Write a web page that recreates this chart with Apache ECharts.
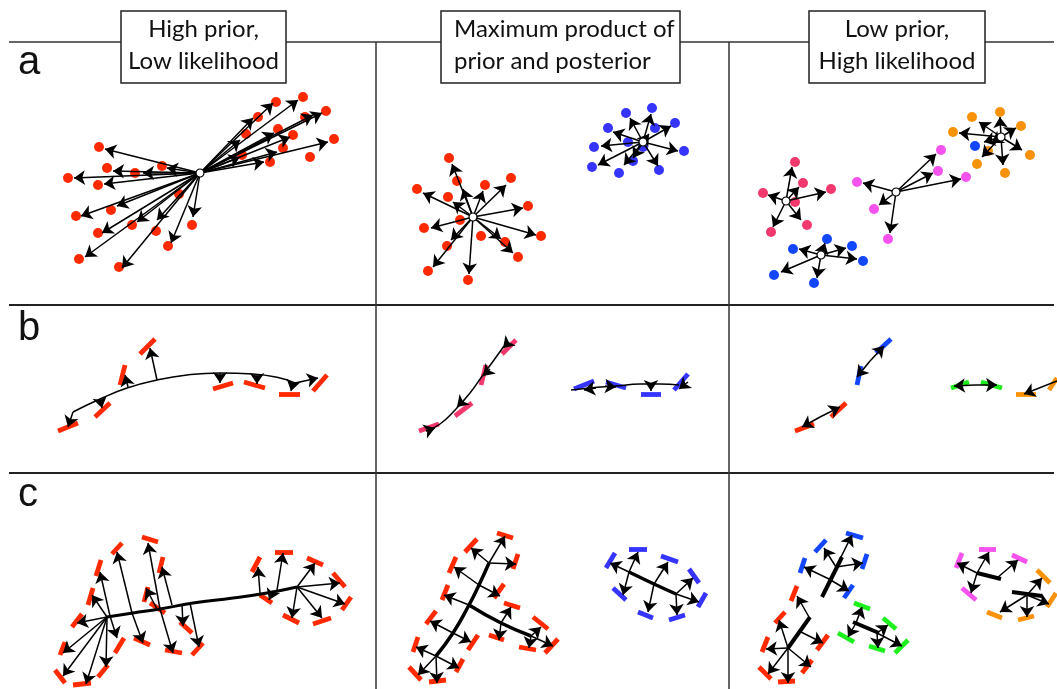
<!DOCTYPE html>
<html>
<head>
<meta charset="utf-8">
<script src="https://cdn.jsdelivr.net/npm/echarts@6/dist/echarts.min.js"></script>
<style>
html, body { margin: 0; padding: 0; background: #fff; }
#chart { width: 1057px; height: 689px; }
</style>
</head>
<body>
<div id="chart"></div>
<script>

// ---- row a : point clusters, fan of arrows from each hub
const a1Hub = [200, 173]
const a1Dots = [[99,147],[107,168],[135,173],[162,166],[68,178],[98,185],[111,210],[76,216],[98,233],[132,225],
  [156,231],[179,194],[192,225],[168,246],[79,259],[119,267],[258,117],[276,102],[303,97],[326,111],[305,117],
  [246,134],[278,129],[293,135],[283,148],[242,155],[270,162],[310,157],[334,139]]
const a1Tips = [[105,149],[113,171],[143,173],[167,168],[74,178],[104,184],[117,206],[81,216],[102,233],[137,222],
  [157,220],[171,243],[193,217],[85,257],[122,268],[253,118],[273,103],[298,100],[322,113],[313,115],[240,140],
  [274,133],[290,137],[277,152],[240,157],[264,162],[328,142]]

const a2RedHub = [473, 217]
const a2RedDots = [[449,158],[457,181],[485,185],[511,178],[417,189],[448,197],[528,206],[460,220],[424,228],
  [481,236],[505,242],[541,236],[447,246],[518,257],[428,271],[468,280]]
const a2RedTips = [[452,164],[463,189],[483,191],[506,185],[423,193],[453,202],[523,208],[431,228],[451,240],
  [536,235],[513,253],[433,267],[469,274],[501,239]]
const a2BlueHub = [643, 142]
const a2BlueDots = [[626,113],[652,108],[608,128],[655,128],[675,123],[594,147],[628,142],[684,151],[592,167],
  [633,161],[619,173],[659,170],[643,147]]
const a2BlueTips = [[630,118],[651,114],[613,132],[649,134],[671,126],[601,146],[678,151],[598,165],[624,165],
  [633,158],[658,166]]

const a3PinkHub = [786, 201]
const a3PinkDots = [[795,162],[803,183],[831,189],[763,193],[795,202],[807,225],[771,232]]
const a3PinkTips = [[792,167],[799,187],[826,192],[768,195],[801,220],[773,227]]
const a3MagentaHub = [896, 192]
const a3MagentaDots = [[941,150],[938,171],[966,177],[857,182],[874,209],[888,239]]
const a3MagentaTips = [[936,154],[933,173],[961,179],[863,183],[879,205],[890,233]]
const a3OrangeHub = [1001, 137]
const a3OrangeDots = [[1000,112],[972,117],[1021,126],[953,132],[1030,155],[988,151],[977,164],[1005,173]]
const a3OrangeStray = [[975,146]]
const a3OrangeTips = [[1000,117],[979,122],[1016,128],[959,133],[1022,150],[984,142],[982,157],[1003,165],[992,143]]
const a3BlueHub = [821, 255]
const a3BlueDots = [[827,239],[852,246],[793,249],[863,261],[774,275],[814,283]]
const a3BlueTips = [[825,243],[846,248],[799,249],[857,259],[781,272],[817,278]]

// ---- row b : curves, short bars, arrows  (segments are [x1,y1,x2,y2])
const b1Curve = [[73,412],[100,399],[127,388],[157,380],[187,375],[220,373],[253,374],[280,378],[295,383]]
const b1Bars = [[58,431,78,423],[95,417,110,403],[120,385,125,365],[140,354,155,339],[213,389,233,383],
  [244,382,265,388],[279,394,300,394],[313,391,327,375]]
const b1Arrows = [[73,412,68,427],[100,399,102,408],[128,387,125,375],[157,380,150,348],[220,373,220,383],
  [257,375,257,384],[293,383,291,391],[295,383,318,378]]

const b2PinkCurve = [[426,431],[440,424],[456,409],[470,393],[483,375],[494,360],[504,346]]
const b2PinkBars = [[419,431,439,424],[455,416,472,403],[481,385,486,365],[502,354,516,340]]
const b2PinkArrows = [[426,431,435,428],[464,400,457,407],[490,369,483,376],[509,342,503,348]]
const b2BlueCurve = [[571,390],[590,388],[616,386],[640,384],[660,384],[679,385]]
const b2BlueBars = [[574,389,594,381],[606,382,626,388],[641,394,661,394],[674,390,688,374]]
const b2BlueArrows = [[596,388,584,390],[605,386,616,387],[651,383,651,391],[688,382,679,389]]

const b3BlueBars = [[876,353,891,339],[857,385,861,366]]
const b3RedBars = [[795,431,814,424],[831,417,846,403]]
const b3GreenBars = [[951,388,969,382],[981,382,1002,388]]
const b3OrangeBars = [[1016,394,1036,394],[1049,390,1057,378]]
const b3Arrows = [[870,361,884,346],[870,361,857,377],[820,417,802,427],[820,417,840,407],
  [975,385,954,386],[975,385,997,385],[1057,381,1024,394]]

// ---- row c : skeleton spines, arrows, bars
const c1Spine = [[107,617],[133,613],[160,609],[193,603],[233,598],[267,593],[297,587]]
const c1Arrows = [[107,617,77,623],[297,587,340,583],[107,617,92,595],[110,616,100,572],[110,616,117,638],
  [107,617,63,653],[107,617,63,676],[107,617,86,684],[107,617,106,667],[132,613,117,552],[132,613,143,643],
  [160,609,148,543],[160,609,173,653],[157,609,146,588],[172,605,162,567],[190,603,199,647],[182,604,183,626],
  [260,593,258,567],[277,590,283,553],[273,591,269,600],[297,587,315,563],[297,587,345,604],[297,587,322,618],
  [297,587,292,618]]
const c1Bars = [[112,554,122,543],[142,537,158,542],[159,573,163,557],[96,576,101,560],[88,605,93,588],
  [144,602,148,587],[72,627,82,614],[60,655,65,642],[55,670,65,683],[73,685,91,683],[98,677,108,665],
  [115,653,124,638],[134,638,150,645],[165,650,182,653],[180,622,192,633],[192,655,203,643],[150,603,165,613],
  [252,572,260,557],[275,552,293,552],[307,558,323,565],[333,573,345,587],[342,610,351,597],[313,624,331,618],
  [283,615,299,623],[260,595,272,603]]

const c2RedSpine = [[436,656],[453,633],[469,605],[479,585],[489,563]]
const c2RedBranch = [[469,605],[501,623],[531,636]]
const c2RedArrows = [[531,636,553,646],[436,656,418,675],[436,656,437,683],[436,656,416,647],[436,656,459,668],
  [453,633,430,621],[453,633,471,642],[469,605,444,595],[479,585,454,567],[479,585,500,596],[489,563,471,548],
  [489,563,505,536],[489,563,516,564],[501,623,511,607],[501,623,499,640],[531,636,541,627],[531,636,529,648]]
const c2RedBars = [[409,667,421,680],[429,682,446,680],[413,652,418,637],[456,672,463,659],[426,624,436,611],
  [468,650,478,635],[442,600,448,585],[449,573,456,557],[494,598,504,584],[465,552,477,539],[497,533,513,538],
  [513,569,518,554],[504,603,520,608],[489,635,504,640],[533,617,548,629],[519,647,536,650],[545,653,558,639]]
const c2BlueSpine = [[676,594],[654,584],[629,572]]
const c2BlueArrows = [[629,572,610,563],[629,572,638,552],[629,572,623,595],[654,584,668,562],[654,584,648,612],
  [676,594,693,578],[676,594,699,602],[676,594,677,615]]
const c2BlueBars = [[606,568,615,553],[629,549,647,549],[661,556,678,562],[613,588,626,600],[638,612,653,618],
  [669,620,685,615],[689,569,699,583],[698,607,706,593]]

const c3BlueSpine = [[822,597],[842,557]]
const c3BlueArrows = [[836,567,824,548],[836,567,852,535],[836,567,863,563],[829,579,804,567],[829,579,849,591]]
const c3BlueBars = [[815,552,826,540],[846,533,863,538],[862,569,867,554],[800,573,805,558],[844,598,853,585]]
const c3RedSpine = [[788,648],[810,617]]
const c3RedArrows = [[788,648,766,649],[788,648,768,674],[788,648,788,683],[788,648,811,667],[788,648,779,620],
  [809,617,797,596],[801,632,823,643]]
const c3RedBars = [[791,601,797,586],[775,623,785,612],[762,652,768,637],[759,667,771,679],[778,682,795,681],
  [802,673,812,660],[817,650,828,635]]
const c3GreenSpine = [[853,622],[879,633]]
const c3GreenArrows = [[856,623,862,607],[856,623,848,637],[877,633,888,625],[877,633,878,648],[877,633,902,646]]
const c3GreenBars = [[854,603,870,609],[838,633,854,642],[883,618,896,629],[869,646,885,651],[895,653,908,640]]
const c3MagentaSpine = [[977,573],[1001,579]]
const c3MagentaArrows = [[977,573,957,563],[977,573,989,552],[977,573,971,593],[997,578,1018,560]]
const c3MagentaBars = [[956,568,962,553],[979,549,996,549],[1012,555,1027,562],[962,588,976,600]]
const c3OrangeSpine = [[1012,592],[1042,596]]
const c3OrangeArrows = [[1027,595,1042,578],[1027,595,1049,604],[1027,595,1027,617],[1027,595,1000,612]]
const c3OrangeBars = [[1037,570,1050,583],[1047,607,1056,593],[1018,620,1034,616],[987,612,1002,618]]

// titles and row letters
const columnTitles = [['High prior,', 'Low likelihood'], ['Maximum product of', 'prior and posterior'], ['Low prior,', 'High likelihood']]
const rowLetters = ['a', 'b', 'c']

const RED = '#ff2a00', BLUE = '#3535ff', BLUE2 = '#1246ff', PINK = '#f2386c',
  MAGENTA = '#f652ee', ORANGE = '#f7920a', GREEN = '#1ef01e'

function dots(pts, color) {
  return { type: 'scatter', data: pts, symbolSize: 10, itemStyle: { color, opacity: 1 }, z: 2, silent: true }
}
function arrows(segs, width) {
  return {
    type: 'lines', coordinateSystem: 'cartesian2d', silent: true, z: 4,
    symbol: ['none', 'arrow'], symbolSize: 11,
    data: segs.map(s => ({ coords: [[s[0], s[1]], [s[2], s[3]]] })),
    itemStyle: { color: '#000' },
    lineStyle: { color: '#000', width: width || 1.5, opacity: 1, curveness: 0 },
  }
}
function fan(hub, tips) {
  return arrows(tips.map(t => [hub[0], hub[1], t[0], t[1]]))
}
function bars(segs, color) {
  return {
    type: 'lines', coordinateSystem: 'cartesian2d', silent: true, z: 3,
    symbol: 'none',
    data: segs.map(s => ({ coords: [[s[0], s[1]], [s[2], s[3]]] })),
    lineStyle: { color, width: 4.8, opacity: 1, cap: 'butt' },
  }
}
function curve(pts, width) {
  return {
    type: 'line', data: pts, smooth: true, symbol: 'none', silent: true, z: 4,
    lineStyle: { color: '#000', width }, animation: false,
  }
}
function hubs(pts) {
  return {
    type: 'scatter', data: pts, symbolSize: 8, silent: true, z: 6,
    itemStyle: { color: '#fff', borderColor: '#000', borderWidth: 1.2, opacity: 1 },
  }
}

const series = [
  // row a
  dots(a1Dots, RED), fan(a1Hub, a1Tips),
  dots(a2RedDots, RED), fan(a2RedHub, a2RedTips),
  dots(a2BlueDots, BLUE), fan(a2BlueHub, a2BlueTips),
  dots(a3PinkDots, PINK), fan(a3PinkHub, a3PinkTips),
  dots(a3MagentaDots, MAGENTA), fan(a3MagentaHub, a3MagentaTips),
  dots(a3OrangeDots, ORANGE), dots(a3OrangeStray, BLUE2), fan(a3OrangeHub, a3OrangeTips),
  dots(a3BlueDots, BLUE2), fan(a3BlueHub, a3BlueTips),
  hubs([a1Hub, a2RedHub, a2BlueHub, a3PinkHub, a3MagentaHub, a3OrangeHub, a3BlueHub]),
  // row b
  bars(b1Bars, RED), curve(b1Curve, 1.5), arrows(b1Arrows),
  bars(b2PinkBars, PINK), curve(b2PinkCurve, 1.5), arrows(b2PinkArrows),
  bars(b2BlueBars, BLUE), curve(b2BlueCurve, 1.5), arrows(b2BlueArrows),
  bars(b3BlueBars, BLUE2), bars(b3RedBars, RED), bars(b3GreenBars, GREEN), bars(b3OrangeBars, ORANGE),
  arrows(b3Arrows),
  // row c
  bars(c1Bars, RED), curve(c1Spine, 3), arrows(c1Arrows),
  bars(c2RedBars, RED), curve(c2RedSpine, 3.5), curve(c2RedBranch, 3.5), arrows(c2RedArrows),
  bars(c2BlueBars, BLUE), curve(c2BlueSpine, 3.5), arrows(c2BlueArrows),
  bars(c3BlueBars, BLUE2), curve(c3BlueSpine, 4), arrows(c3BlueArrows),
  bars(c3RedBars, RED), curve(c3RedSpine, 4), arrows(c3RedArrows),
  bars(c3GreenBars, GREEN), curve(c3GreenSpine, 4), arrows(c3GreenArrows),
  bars(c3MagentaBars, MAGENTA), curve(c3MagentaSpine, 4), arrows(c3MagentaArrows),
  bars(c3OrangeBars, ORANGE), curve(c3OrangeSpine, 4), arrows(c3OrangeArrows),
]

// frame: panel rules and title boxes
const frame = { stroke: '#333', lineWidth: 1.5 }
const graphic = [
  { type: 'line', shape: { x1: 9, y1: 42, x2: 1054, y2: 42 }, style: frame },
  { type: 'line', shape: { x1: 9, y1: 305, x2: 1054, y2: 305 }, style: { stroke: '#222', lineWidth: 2 } },
  { type: 'line', shape: { x1: 9, y1: 473, x2: 1054, y2: 473 }, style: { stroke: '#222', lineWidth: 2 } },
  { type: 'line', shape: { x1: 376, y1: 42, x2: 376, y2: 689 }, style: frame },
  { type: 'line', shape: { x1: 729, y1: 42, x2: 729, y2: 689 }, style: frame },
]
const boxes = [[121, 165, 'center'], [441, 239, 'left'], [809, 176, 'center']]
boxes.forEach((b, i) => {
  graphic.push({ type: 'rect', z: 10, shape: { x: b[0], y: 11, width: b[1], height: 72 },
    style: { fill: '#fff', stroke: '#222', lineWidth: 1.5 } })
  columnTitles[i].forEach((t, j) => {
    graphic.push({ type: 'text', z: 11,
      x: b[2] === 'center' ? b[0] + b[1] / 2 : b[0] + 13, y: 29 + j * 32,
      style: { text: t, fill: '#111', font: '24px Lato', textAlign: b[2], textVerticalAlign: 'middle' } })
  })
})
const letterY = [63, 329, 495]
rowLetters.forEach((l, i) => {
  graphic.push({ type: 'text', z: 11, x: 18, y: letterY[i],
    style: { text: l, fill: '#111', font: '40px "Liberation Sans"', textVerticalAlign: 'middle' } })
})

const chart = echarts.init(document.getElementById('chart'))
chart.setOption({
  animation: false,
  grid: { left: 0, right: 0, top: 0, bottom: 0 },
  xAxis: { type: 'value', min: 0, max: 1057, show: false },
  yAxis: { type: 'value', min: 0, max: 689, inverse: true, show: false },
  graphic,
  series,
})
</script>
</body>
</html>
